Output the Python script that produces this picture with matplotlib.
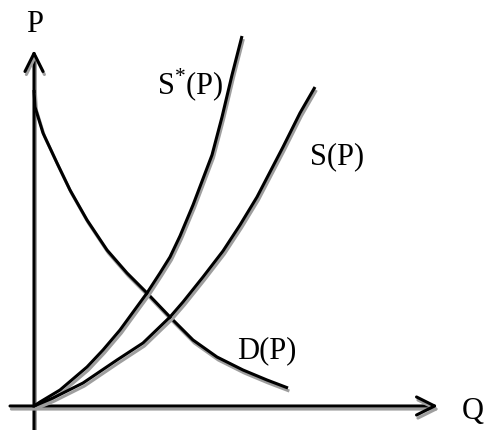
import numpy as np
import matplotlib
matplotlib.use("Agg")
import matplotlib.pyplot as plt
import matplotlib.patheffects as pe
from matplotlib.patches import FancyArrowPatch

plt.rcParams['font.family'] = ['Liberation Serif', 'DejaVu Serif']
plt.rcParams['mathtext.fontset'] = 'custom'
plt.rcParams['mathtext.rm'] = 'Liberation Serif'

# curves, (Q, P) with origin at the axes corner
s_q = [0, 19, 49, 83, 109, 136, 149, 169, 189, 206, 223, 249, 266, 281]
s_p = [0, 8, 23, 46, 63, 89, 104, 129, 155, 181, 209, 259, 293, 319]

s_star_q = [0, 6, 26, 53, 69, 86, 113, 126, 136, 146, 159, 178, 188, 198, 208]
s_star_p = [0, 4, 16, 39, 56, 76, 113, 133, 149, 170, 201, 251, 289, 331, 370]

d_q = [0, 1, 9, 23, 36, 53, 73, 93, 113, 136, 159, 183, 209, 233, 254]
d_p = [316, 299, 273, 243, 216, 186, 156, 133, 113, 89, 66, 49, 36, 26, 18]

labels = ['P', 'Q', 'S$^{\\mathrm{*}}$(P)', 'S(P)', 'D(P)']

shadow = [pe.SimpleLineShadow(offset=(1.0, -2.2), shadow_color='0.62', alpha=1.0),
          pe.Normal()]

fig = plt.figure(figsize=(4.85, 4.3), dpi=100)
ax = fig.add_axes([0, 0, 1, 1])
ax.set_xlim(-34, 451)
ax.set_ylim(-24, 406)
ax.axis('off')

lw = 2.2
for q, p in [(d_q, d_p), (s_star_q, s_star_p), (s_q, s_p)]:
    ax.plot(q, p, color='black', lw=lw, solid_joinstyle='round',
            solid_capstyle='butt', path_effects=shadow)

# axes with open arrow heads
for start, end in [((0, -24), (0, 356)), ((-24, 0), (404, 0))]:
    arr = FancyArrowPatch(start, end, arrowstyle='->,head_length=13,head_width=6.5',
                          mutation_scale=1, shrinkA=0, shrinkB=0,
                          color='black', lw=lw, path_effects=shadow)
    ax.add_patch(arr)

fs = 22
ax.text(1, 381, labels[0], fontsize=fs, ha='center', va='center')
ax.text(439, -5, labels[1], fontsize=fs, ha='center', va='center')
ax.text(156, 321, labels[2], fontsize=fs, ha='center', va='center')
ax.text(303, 249, labels[3], fontsize=fs, ha='center', va='center')
ax.text(233, 55, labels[4], fontsize=fs, ha='center', va='center')

fig.savefig('out.png', dpi=100)
